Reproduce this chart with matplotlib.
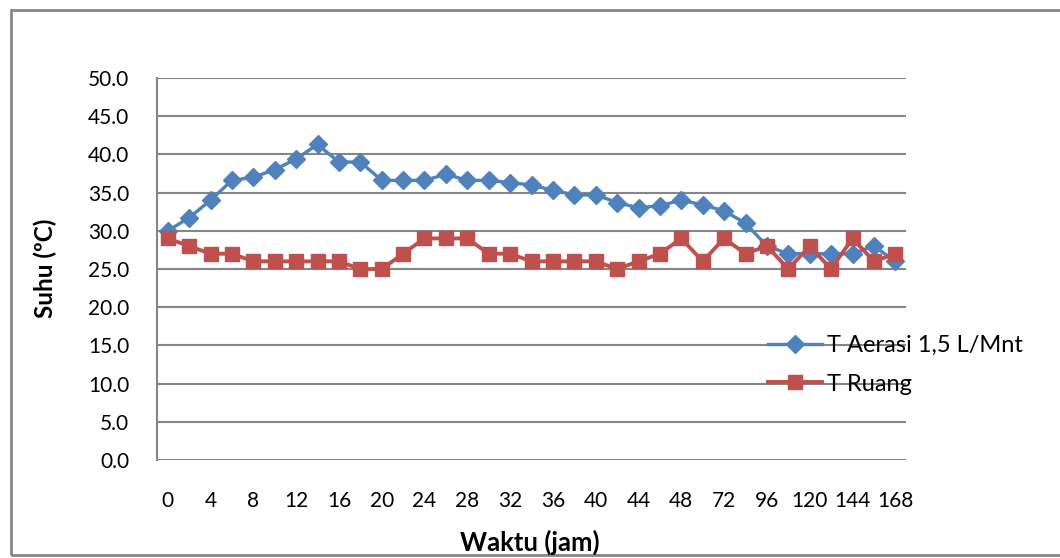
# grafik suhu aerasi vs suhu ruang terhadap waktu

import matplotlib
matplotlib.use('Agg')
import matplotlib.pyplot as plt
from matplotlib.patches import Rectangle

plt.rcParams['font.family'] = ['Lato', 'DejaVu Sans']

waktu = [0, 2, 4, 6, 8, 10, 12, 14, 16, 18, 20, 22, 24, 26, 28, 30, 32, 34,
         36, 38, 40, 42, 44, 46, 48, 60, 72, 84, 96, 108, 120, 132, 144, 156, 168]
t_aerasi = [30.0, 31.7, 34.0, 36.6, 37.0, 38.0, 39.4, 41.3, 39.0, 39.0, 36.6, 36.6,
            36.6, 37.4, 36.6, 36.6, 36.3, 36.0, 35.3, 34.7, 34.7, 33.7, 33.0, 33.3,
            34.0, 33.4, 32.6, 31.0, 28.0, 27.0, 27.0, 27.0, 27.0, 28.0, 26.0]
t_ruang = [29, 28, 27, 27, 26, 26, 26, 26, 26, 25, 25, 27, 29, 29, 29, 27, 27, 26,
           26, 26, 26, 25, 26, 27, 29, 26, 29, 27, 28, 25, 28, 25, 29, 26, 27]
y_ticks = [0, 5, 10, 15, 20, 25, 30, 35, 40, 45, 50]

biru = '#4F81BD'
merah = '#C0504D'
abu = '#868686'

fig = plt.figure(figsize=(10.6, 5.58), dpi=100)
ax = fig.add_axes([157 / 1060, 98 / 558, 749 / 1060, 382 / 558])

x = list(range(len(waktu)))
ax.plot(x, t_aerasi, color=biru, lw=2.4, marker='D', markersize=9,
        label='T Aerasi 1,5 L/Mnt', zorder=3)
ax.plot(x, t_ruang, color=merah, lw=2.8, marker='s', markersize=10,
        label='T Ruang', zorder=4)

ax.set_xlim(-0.5, len(waktu) - 0.5)
ax.set_ylim(0, 50)
ax.set_yticks(y_ticks)
ax.set_yticklabels(['%.1f' % v for v in y_ticks])
ax.set_xticks(x[::2])
ax.set_xticklabels([str(w) for w in waktu[::2]])
ax.tick_params(axis='both', length=0, labelsize=15)
ax.tick_params(axis='x', pad=22)
ax.tick_params(axis='y', pad=20)

ax.grid(axis='y', color=abu, lw=1.5)
ax.set_axisbelow(True)
for s in ['top', 'right', 'bottom']:
    ax.spines[s].set_visible(False)
ax.spines['left'].set_color(abu)
ax.spines['left'].set_linewidth(1.5)

fig.text(530 / 1060, 1 - 542 / 558, 'Waktu (jam)', ha='center', va='center',
         fontsize=18.5, fontweight='bold')
fig.text(45 / 1060, 1 - 268 / 558, 'Suhu (ºC)', ha='center', va='center',
         rotation=90, fontsize=17.5, fontweight='bold')

fig.legend(loc='upper left', bbox_to_anchor=(768 / 1060, 1 - 335 / 558),
           frameon=False, fontsize=17, borderpad=0, borderaxespad=0,
           handlelength=2.3, handletextpad=0.2, labelspacing=0.75)

# bingkai luar grafik
fig.patches.append(Rectangle((11 / 1060, 1 - 555 / 558), 1.0, 545 / 558,
                             transform=fig.transFigure, fill=False,
                             edgecolor=abu, lw=2))

fig.savefig('out.png', dpi=100)
